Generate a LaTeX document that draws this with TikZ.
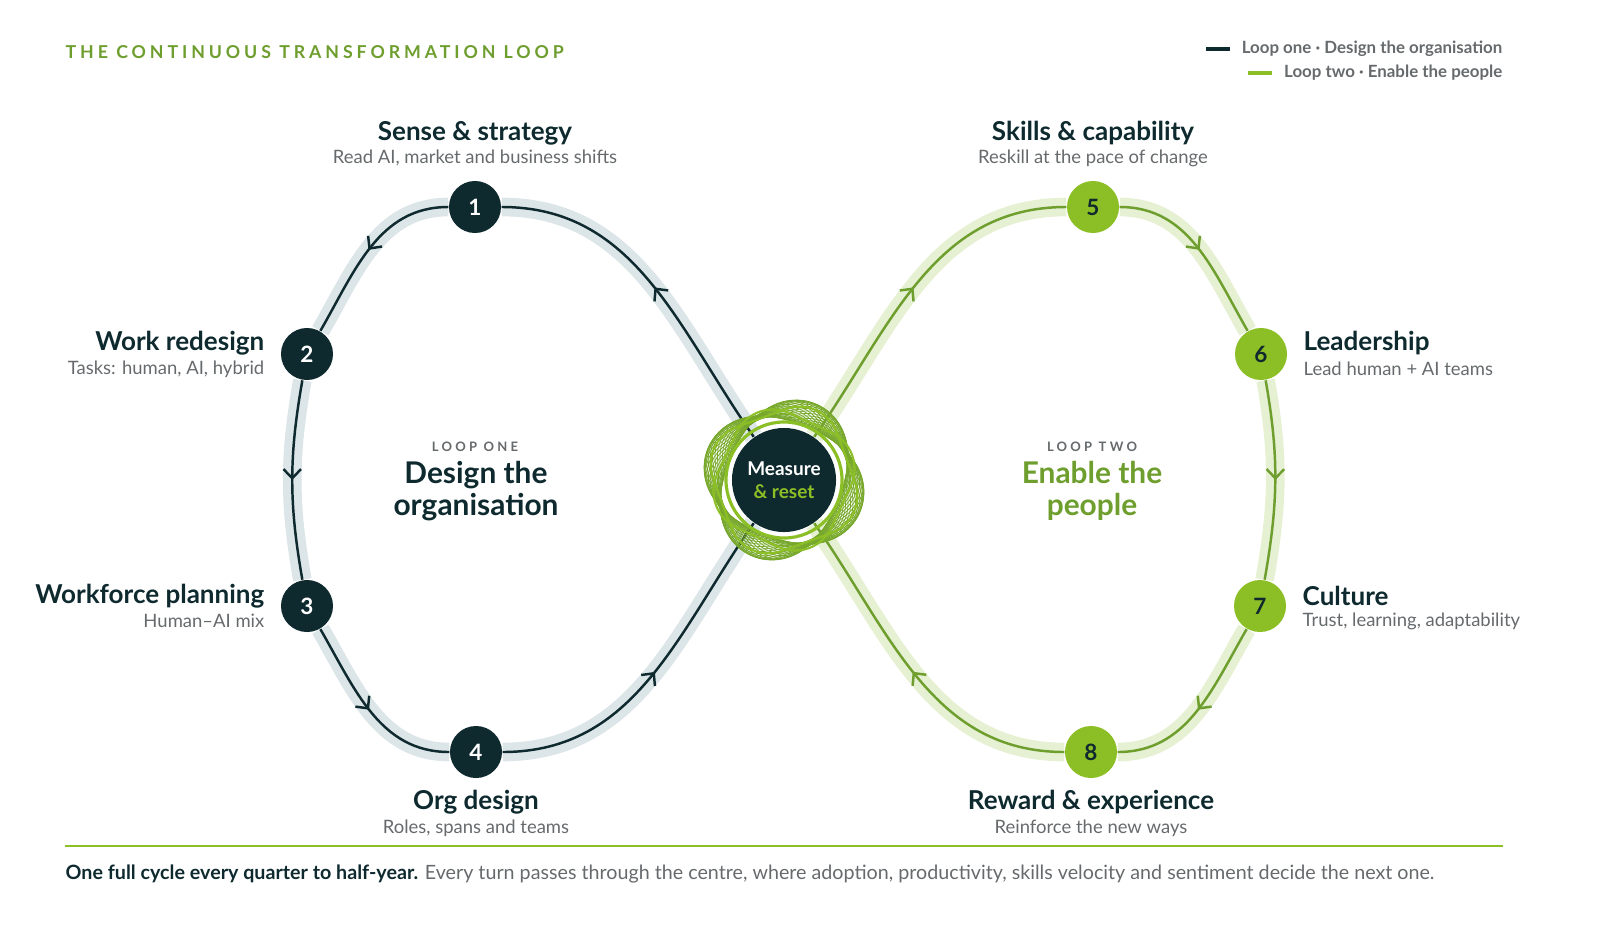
\documentclass[tikz,border=0pt]{standalone}
\usepackage{fontspec}
\setmainfont{Lato}
\usepackage{tikz}
\usetikzlibrary{arrows.meta, positioning, backgrounds, decorations.markings}
\definecolor{ink}{HTML}{0E2A2F}
\definecolor{leaf}{HTML}{8CBF26}
\definecolor{moss}{HTML}{6E9E2E}
\definecolor{slate}{HTML}{666A6C}
\definecolor{bandone}{HTML}{DCE5E8}
\definecolor{bandtwo}{HTML}{E6F0D2}
\tikzset{
  stage/.style={circle, minimum size=0.52cm, inner sep=0pt, text=white, font=\fontsize{6.4}{7}\selectfont\bfseries},
  head/.style={text=ink, font=\fontsize{7.4}{8}\selectfont\bfseries, inner sep=0pt},
  sub/.style={text=slate, font=\fontsize{5.25}{6}\selectfont, inner sep=0pt},
  band/.style={line width=5.3pt},
  flow/.style={line width=0.7pt, postaction={decorate, decoration={markings,
      mark=at position .5 with {\arrow{Straight Barb[length=2.6pt, width=5pt, line width=0.7pt]}}}}},
  ringline/.style={draw=moss!70!leaf, line width=0.22pt},
}
\begin{document}
\begin{tikzpicture}[x=0.01cm, y=0.01cm]
\useasboundingbox (0,0) rectangle (1600,941);

% Title and legend
\node [anchor=west, text=moss, font=\fontsize{5.05}{6}\selectfont\bfseries\addfontfeatures{LetterSpace=22}, inner sep=0pt] (title) at (65,889) {THE CONTINUOUS TRANSFORMATION LOOP};
\node [anchor=east, text=slate, font=\fontsize{4.8}{5}\selectfont\bfseries, inner sep=0pt] (legone) at (1503,892) {Loop one · Design the organisation};
\node [anchor=east, text=slate, font=\fontsize{4.8}{5}\selectfont\bfseries, inner sep=0pt] (legtwo) at (1503,868) {Loop two · Enable the people};
\draw [ink, line width=1pt] ([xshift=-0.35cm]legone.west) -- ++(24,0);
\draw [leaf, line width=1pt] ([xshift=-0.35cm]legtwo.west) -- ++(24,0);

% Centre ring
\foreach \a in {0,3,...,87} {
  \pgfmathsetmacro{\hs}{64+6*sin(4*\a)}
  \draw [ringline, shift={(784,461)}, rotate=\a, rounded corners=0.4cm] (-\hs,-\hs) rectangle (\hs,\hs);
}
\draw [leaf, line width=0.9pt] (784,461) circle (58);
\draw [leaf, line width=0.6pt, shift={(784,461)}, rotate=20, rounded corners=0.4cm] (-66,-66) rectangle (66,66);
\draw [leaf, line width=0.6pt, shift={(784,461)}, rotate=65, rounded corners=0.4cm] (-63,-63) rectangle (63,63);
\node [circle, fill=ink, minimum size=1.04cm, inner sep=0pt, align=center, text=white,
  font=\fontsize{5.4}{6.4}\selectfont\bfseries] (c) at (784,461) {Measure\\\textcolor{leaf}{\& reset}};

% Stages
\node [stage, fill=ink] (n1) at (475,734) {1};
\node [stage, fill=ink] (n2) at (307,587) {2};
\node [stage, fill=ink] (n3) at (307,335) {3};
\node [stage, fill=ink] (n4) at (476,189) {4};
\node [stage, fill=leaf, text=ink] (n5) at (1093,734) {5};
\node [stage, fill=leaf, text=ink] (n6) at (1261,587) {6};
\node [stage, fill=leaf, text=ink] (n7) at (1260,335) {7};
\node [stage, fill=leaf, text=ink] (n8) at (1091,189) {8};

% Loops
\begin{scope}[on background layer]
\draw [band, bandone] (c) to[out=125, in=0] (n1) to[out=180, in=60] (n2)
  to[out=-100, in=100] (n3) to[out=-60, in=180] (n4) to[out=0, in=-125] (c);
\draw [band, bandtwo] (c) to[out=55, in=180] (n5) to[out=0, in=120] (n6)
  to[out=-80, in=80] (n7) to[out=-120, in=0] (n8) to[out=180, in=-55] (c);
\draw [flow, ink] (c) to[out=125, in=0] (n1);
\draw [flow, ink] (n1) to[out=180, in=60] (n2);
\draw [flow, ink] (n2) to[out=-100, in=100] (n3);
\draw [flow, ink] (n3) to[out=-60, in=180] (n4);
\draw [flow, ink] (n4) to[out=0, in=-125] (c);
\draw [flow, moss] (c) to[out=55, in=180] (n5);
\draw [flow, moss] (n5) to[out=0, in=120] (n6);
\draw [flow, moss] (n6) to[out=-80, in=80] (n7);
\draw [flow, moss] (n7) to[out=-120, in=0] (n8);
\draw [flow, moss] (n8) to[out=180, in=-55] (c);
\end{scope}

% Labels
\node [head] (h1) at (475,808) {Sense \& strategy};
\node [sub] at (475,783) {Read AI, market and business shifts};
\node [head, anchor=east] (h2) at (265,598) {Work redesign};
\node [sub, anchor=east] at (265,572) {Tasks: human, AI, hybrid};
\node [head, anchor=east] (h3) at (265,345) {Workforce planning};
\node [sub, anchor=east] at (265,320) {Human–AI mix};
\node [head] (h4) at (476,139) {Org design};
\node [sub] at (476,113) {Roles, spans and teams};
\node [head] (h5) at (1093,808) {Skills \& capability};
\node [sub] at (1093,783) {Reskill at the pace of change};
\node [head, anchor=west] (h6) at (1303,598) {Leadership};
\node [sub, anchor=west] at (1303,572) {Lead human + AI teams};
\node [head, anchor=west] (h7) at (1302,345) {Culture};
\node [sub, anchor=west] at (1302,320) {Trust, learning, adaptability};
\node [head] (h8) at (1091,139) {Reward \& experience};
\node [sub] at (1091,113) {Reinforce the new ways};

% Loop names
\node [sub, font=\fontsize{3.7}{4}\selectfont\bfseries\addfontfeatures{LetterSpace=25}] at (475,494) {LOOP ONE};
\node [head, align=center, font=\fontsize{8.5}{9}\selectfont\bfseries] at (476,450) {Design the\\organisation};
\node [sub, font=\fontsize{3.7}{4}\selectfont\bfseries\addfontfeatures{LetterSpace=25}] at (1092,494) {LOOP TWO};
\node [head, text=moss, align=center, font=\fontsize{8.5}{9}\selectfont\bfseries] at (1092,450) {Enable the\\people};

% Footer
\draw [leaf, line width=0.7pt] (65,95) -- (1503,95);
\node [anchor=west, sub, font=\fontsize{5.6}{6}\selectfont] at (65,67) {\textcolor{ink}{\bfseries One full cycle every quarter to half-year.} Every turn passes through the centre, where adoption, productivity, skills velocity and sentiment decide the next one.};
\end{tikzpicture}
\end{document}
